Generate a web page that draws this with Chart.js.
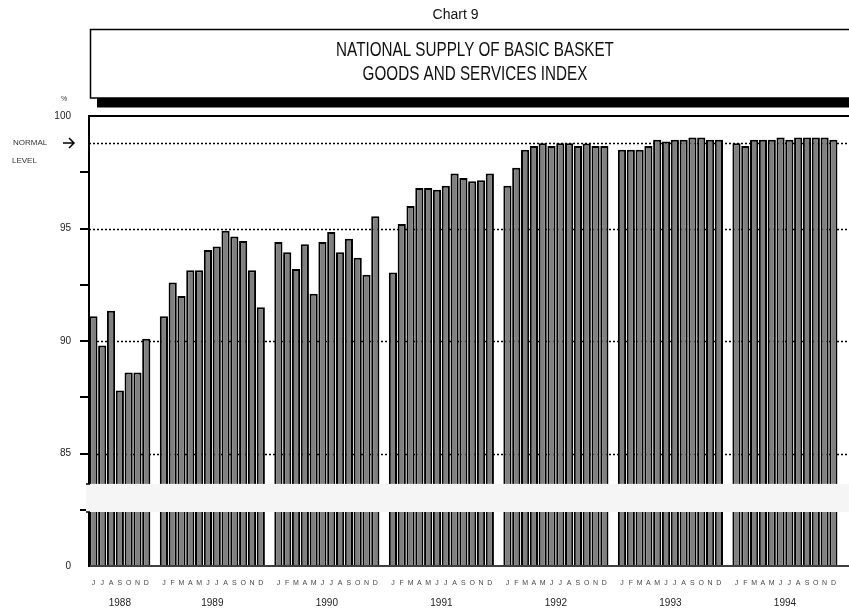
<!DOCTYPE html>
<html><head><meta charset="utf-8">
<script src="https://cdn.jsdelivr.net/npm/chart.js@4.4.1/dist/chart.umd.min.js"></script>
<style>html,body{margin:0;padding:0;background:#fff;}canvas{display:block;}</style>
</head><body>
<canvas id="c" width="849" height="614"></canvas>
<script>
// ---- data ----
const years = ['1988', '1989', '1990', '1991', '1992', '1993', '1994'];
const months1988 = ['J', 'J', 'A', 'S', 'O', 'N', 'D'];
const monthsFull = ['J', 'F', 'M', 'A', 'M', 'J', 'J', 'A', 'S', 'O', 'N', 'D'];
const v1988 = [91.1, 89.8, 91.35, 87.8, 88.6, 88.6, 90.1];
const v1989 = [91.1, 92.6, 92.0, 93.15, 93.15, 94.05, 94.2, 94.9, 94.65, 94.45, 93.15, 91.5];
const v1990 = [94.4, 93.95, 93.2, 94.3, 92.1, 94.4, 94.85, 93.95, 94.55, 93.7, 92.95, 95.55];
const v1991 = [93.05, 95.2, 96.0, 96.8, 96.8, 96.72, 96.9, 97.45, 97.25, 97.1, 97.15, 97.45];
const v1992 = [96.9, 97.7, 98.5, 98.67, 98.79, 98.67, 98.79, 98.79, 98.67, 98.78, 98.67, 98.67];
const v1993 = [98.5, 98.5, 98.5, 98.67, 98.94, 98.87, 98.94, 98.94, 99.04, 99.04, 98.94, 98.94];
const v1994 = [98.79, 98.67, 98.94, 98.94, 98.94, 99.04, 98.94, 99.04, 99.04, 99.04, 99.04, 98.94];
const gridValues = [85, 90, 95];
const normalLevel = 98.8;
const yMin = 80;      // axis floor shown as "0" (broken axis)
const yMax = 100;
const yStep = 2.5;
const breakFrom = 82.4, breakTo = 83.65;
const titleSmall = 'Chart 9';
const titleLines = ['NATIONAL SUPPLY OF BASIC BASKET', 'GOODS AND SERVICES INDEX'];

// ---- build category table ----
const groups = [
  {year: years[0], months: months1988, values: v1988},
  {year: years[1], months: monthsFull, values: v1989},
  {year: years[2], months: monthsFull, values: v1990},
  {year: years[3], months: monthsFull, values: v1991},
  {year: years[4], months: monthsFull, values: v1992},
  {year: years[5], months: monthsFull, values: v1993},
  {year: years[6], months: monthsFull, values: v1994}
];
const labels = [], data = [], groupIdx = [];
groups.forEach((g, gi) => {
  if (gi > 0) { labels.push(''); data.push(null); }
  const first = labels.length;
  g.months.forEach((m, i) => { labels.push(m); data.push(g.values[i]); });
  groupIdx.push({year: g.year, first, last: labels.length - 1});
});

const FONT = "'Liberation Sans', Arial, Helvetica, sans-serif";

const decor = {
  id: 'decor',
  beforeDatasetsDraw(chart) {
    const {ctx, chartArea: a, scales: {y}} = chart;
    ctx.save();
    ctx.strokeStyle = '#000';
    ctx.lineWidth = 1.5;
    ctx.setLineDash([2, 2]);
    [...gridValues, normalLevel].forEach(v => {
      const py = Math.round(y.getPixelForValue(v)) + 0.5;
      ctx.beginPath(); ctx.moveTo(a.left, py); ctx.lineTo(chart.width, py); ctx.stroke();
    });
    ctx.restore();
  },
  afterDatasetsDraw(chart) {
    const {ctx, chartArea: a, scales: {x, y}} = chart;
    ctx.save();
    // top frame line and baseline
    ctx.strokeStyle = '#000';
    ctx.lineWidth = 2;
    ctx.beginPath(); ctx.moveTo(a.left - 1, a.top); ctx.lineTo(chart.width, a.top); ctx.stroke();
    ctx.lineWidth = 1.5;
    ctx.beginPath(); ctx.moveTo(a.left - 1, a.bottom); ctx.lineTo(chart.width, a.bottom); ctx.stroke();
    // axis break band
    const bt = y.getPixelForValue(breakTo), bb = y.getPixelForValue(breakFrom);
    ctx.fillStyle = '#f5f5f5';
    ctx.fillRect(a.left - 3, bt, chart.width - a.left + 3, bb - bt);
    ctx.lineWidth = 1.5;
    ctx.beginPath();
    ctx.moveTo(a.left - 3, bt); ctx.lineTo(a.left + 1, bt);
    ctx.moveTo(a.left - 3, bb); ctx.lineTo(a.left + 1, bb);
    ctx.stroke();
    // year labels
    ctx.fillStyle = '#222';
    ctx.font = '10px ' + FONT;
    ctx.textAlign = 'center';
    ctx.textBaseline = 'middle';
    groupIdx.forEach(g => {
      const cx = (x.getPixelForValue(g.first) + x.getPixelForValue(g.last)) / 2;
      ctx.fillText(g.year, cx, 603);
    });
    // normal level annotation
    const ny = y.getPixelForValue(normalLevel);
    ctx.font = '8px ' + FONT;
    ctx.fillStyle = '#333';
    ctx.textAlign = 'left';
    ctx.fillText('NORMAL', 13, ny);
    ctx.fillText('LEVEL', 12, ny + 18);
    ctx.strokeStyle = '#000';
    ctx.lineWidth = 1.5;
    ctx.beginPath();
    ctx.moveTo(63, ny); ctx.lineTo(74, ny);
    ctx.moveTo(69, ny - 5); ctx.lineTo(74, ny); ctx.lineTo(69, ny + 5);
    ctx.stroke();
    // percent sign
    ctx.font = '7px ' + FONT;
    ctx.fillText('%', 61, 99);
    ctx.restore();
  },
  afterDraw(chart) {
    const {ctx} = chart;
    ctx.save();
    // small title
    ctx.fillStyle = '#111';
    ctx.font = '14px ' + FONT;
    ctx.textAlign = 'center';
    ctx.textBaseline = 'middle';
    ctx.fillText(titleSmall, 455.5, 15);
    // title box with shadow
    ctx.fillStyle = '#000';
    ctx.fillRect(97, 98, chart.width - 97, 9.5);
    ctx.fillStyle = '#fff';
    ctx.fillRect(90.5, 29.5, chart.width, 68.5);
    ctx.strokeStyle = '#000';
    ctx.lineWidth = 1.5;
    ctx.strokeRect(90.5, 29.5, chart.width, 68.5);
    // title lines (condensed)
    ctx.fillStyle = '#111';
    ctx.font = '21px ' + FONT;
    [[titleLines[0], 50], [titleLines[1], 74]].forEach(([t, ty]) => {
      ctx.save();
      ctx.translate(475, ty);
      ctx.scale(0.725, 1);
      ctx.fillText(t, 0, 0);
      ctx.restore();
    });
    ctx.restore();
  }
};

new Chart(document.getElementById('c').getContext('2d'), {
  type: 'bar',
  data: {
    labels,
    datasets: [{
      data,
      base: yMin,
      backgroundColor: '#808080',
      borderColor: '#000',
      borderWidth: 2,
      barPercentage: 0.93,
      categoryPercentage: 1
    }]
  },
  options: {
    responsive: false,
    animation: false,
    devicePixelRatio: 1,
    layout: {padding: {top: 116, right: 11, left: 0, bottom: 0}},
    plugins: {legend: {display: false}, tooltip: {enabled: false}, title: {display: false}},
    scales: {
      x: {
        type: 'category',
        offset: true,
        grid: {display: false, drawTicks: false},
        border: {display: false},
        ticks: {autoSkip: false, maxRotation: 0, minRotation: 0, padding: 13, color: '#444',
                font: {family: FONT, size: 7}},
        afterFit: s => { s.height = 48; }
      },
      y: {
        min: yMin, max: yMax,
        grid: {
          drawOnChartArea: false, drawTicks: true, tickLength: 9, lineWidth: 2,
          tickColor: c => (c.tick && (c.tick.value === yMax || c.tick.value === yMin)) ? 'rgba(0,0,0,0)' : '#000'
        },
        border: {display: true, color: '#000', width: 2},
        ticks: {
          stepSize: yStep, padding: 9, color: '#222', font: {family: FONT, size: 10},
          callback: v => v === yMin ? '0' : (v % 5 === 0 ? String(v) : '')
        },
        afterFit: s => { s.width = 89; }
      }
    }
  },
  plugins: [decor]
});
</script>
</body></html>
